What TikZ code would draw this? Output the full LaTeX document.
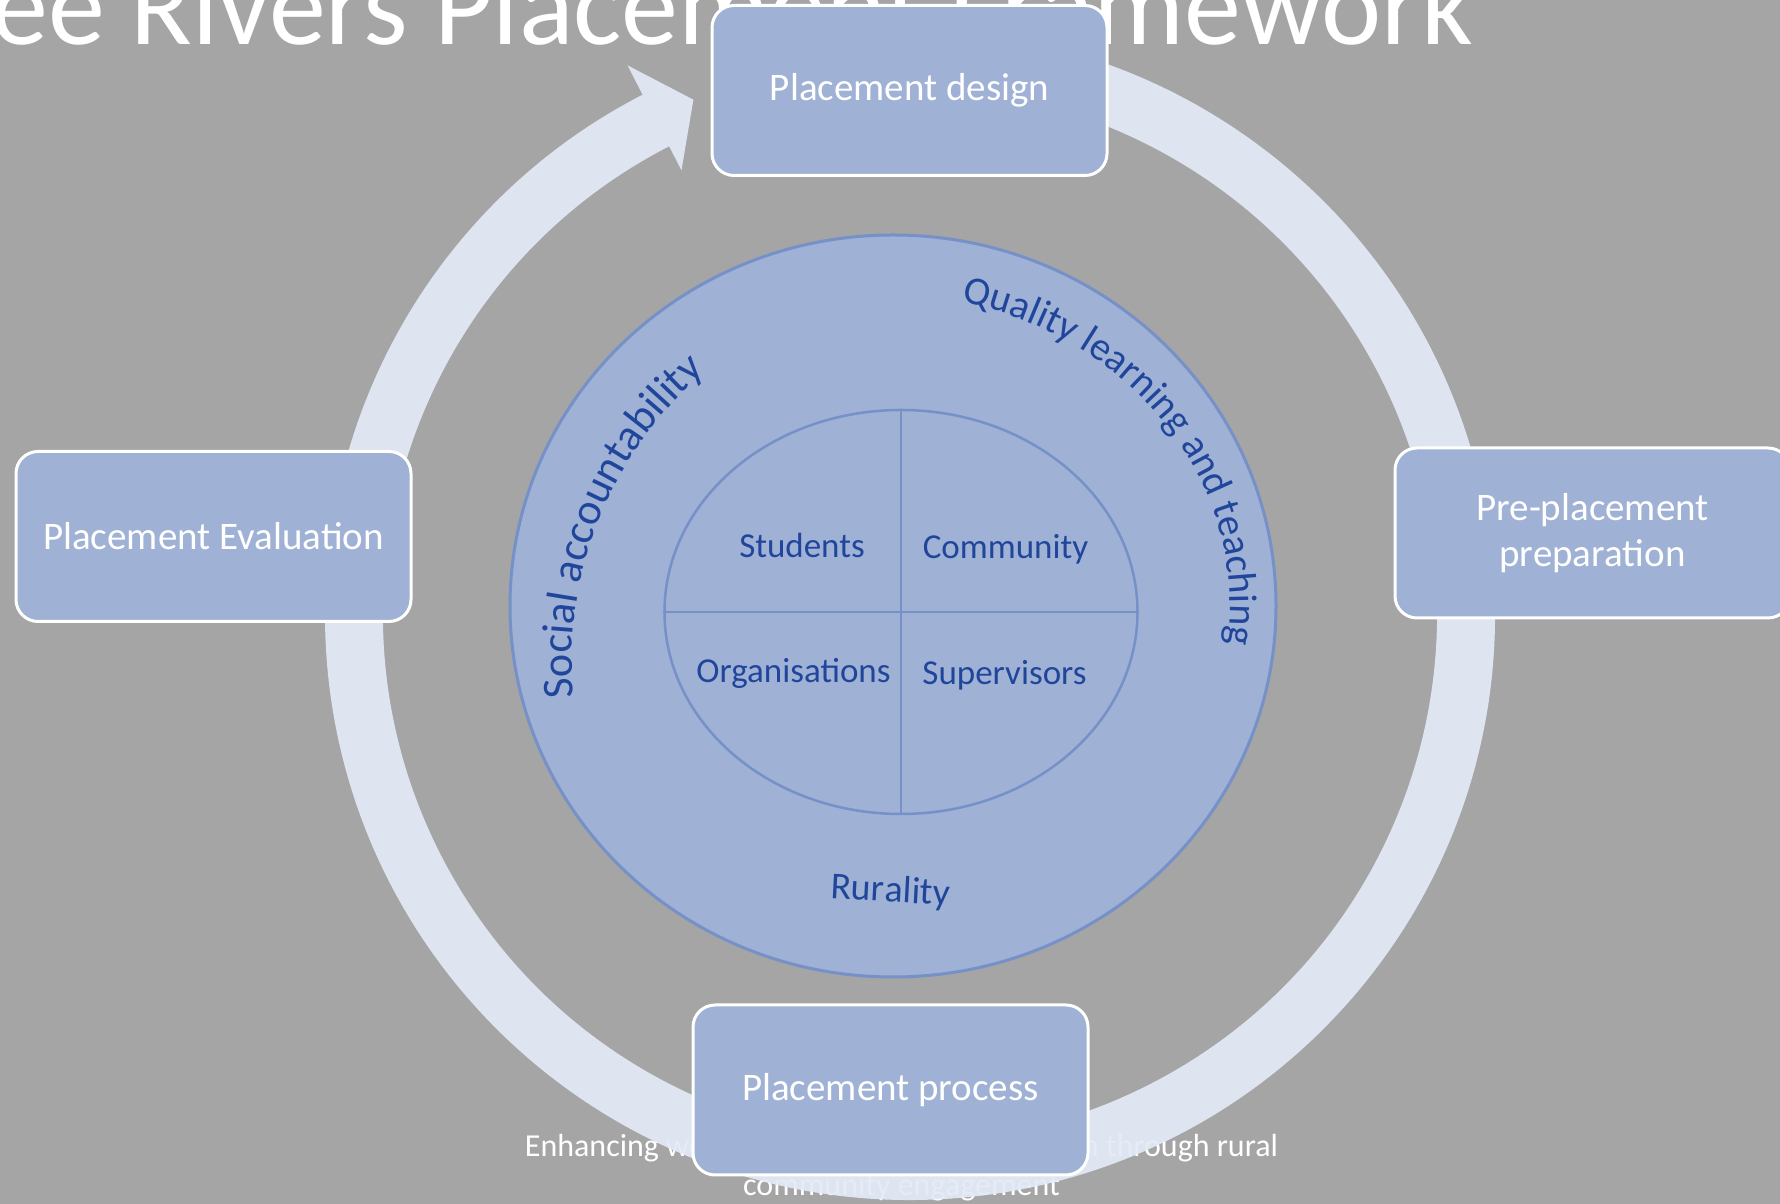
\documentclass[tikz,border=0pt]{standalone}
\usepackage{fontspec}
\setmainfont{Carlito}
\usetikzlibrary{shapes.geometric, decorations.text}

\definecolor{slidegray}{RGB}{165,165,165}
\definecolor{ringblue}{RGB}{227,234,247}
\definecolor{boxblue}{RGB}{159,177,213}
\definecolor{rimblue}{RGB}{118,145,200}
\definecolor{labelblue}{RGB}{32,70,155}

\begin{document}
\begin{tikzpicture}[x=1pt, y=1pt,
  stagebox/.style={draw=white, line width=3, fill=boxblue, rounded corners=22,
    minimum width=395, minimum height=170, inner sep=0, align=center,
    text=white, font=\fontsize{39}{46}\selectfont},
  quarter/.style={text=labelblue, font=\fontsize{35}{42}\selectfont,
    inner sep=0, anchor=base},
  footer/.style={text=white, font=\fontsize{32}{39}\selectfont,
    anchor=base, inner sep=0},
  arched/.style 2 args={decorate, decoration={text along path, text align=center,
    text color=labelblue, text={|\fontsize{#1}{#1}\selectfont|#2}}}]

  \path[use as bounding box, fill=slidegray] (0,0) rectangle (1780,1204);
  \clip (0,0) rectangle (1780,1204);

  % slide title and footer, partly covered by the cycle
  \node[text=white, font=\fontsize{114}{130}\selectfont, anchor=base east,
        inner sep=0] (title) at (1473,1159) {Three Rivers Placement Framework};
  \node[footer] (footA) at (901.5,47) {Enhancing workforce development in health through rural};
  \node[footer] (footB) at (901.5,8) {community engagement};

  % cycle ring ending in the arrow head
  \def\rout{585}
  \def\rin{527}
  \def\hb{117.2}
  \begin{scope}[shift={(910,589)}]
    \fill[ringblue, opacity=0.92] (95:\rout)
      arc[start angle=95, end angle=\hb-360, radius=\rout]
      -- (\hb:618) -- (112.8:559) -- (\hb:500) -- (\hb:\rin)
      arc[start angle=\hb-360, end angle=95, radius=\rin] -- cycle;
  \end{scope}

  % core circle and the four quarters
  \node[ellipse, draw=rimblue, line width=3, fill=boxblue,
        minimum width=766, minimum height=742] (core) at (893,598) {};
  \node[ellipse, draw=rimblue, line width=2.5,
        minimum width=473, minimum height=404] (hub) at (901,592) {};
  \draw[rimblue, line width=2.5] (hub.north) -- (hub.south) (hub.west) -- (hub.east);

  \node[quarter] (students) at (802,646) {Students};
  \node[quarter] (community) at (1005.5,645) {Community};
  \node[quarter] (organisations) at (793.5,521) {Organisations};
  \node[quarter] (supervisors) at (1004.5,519) {Supervisors};

  % arched labels
  \path[arched={44}{Social accountability}]
    (950,544) ++(190:378) arc[start angle=190, end angle=126, radius=378];
  \path[arched={40}{Quality learning and teaching}]
    (885,598) ++(80:345 and 312) arc[start angle=80, end angle=-10,
      x radius=345, y radius=312];
  \path[arched={38}{Rurality}] (820,305.7) -- (960,298.4);

  % the four stages
  \node[stagebox] (design) at (909.5,1113.5) {Placement design};
  \node[stagebox] (prep) at (1592.5,671) {Pre-placement\\preparation};
  \node[stagebox] (evaluation) at (213.5,667.5) {Placement Evaluation};
  \node[stagebox] (process) at (890.5,114) {Placement process};
\end{tikzpicture}
\end{document}
